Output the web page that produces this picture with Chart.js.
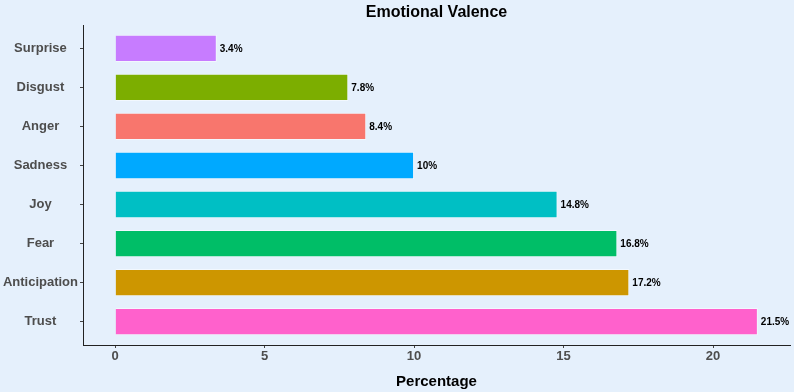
<!DOCTYPE html>
<html>
<head>
<meta charset="utf-8">
<script src="https://cdn.jsdelivr.net/npm/chart.js@4"></script>
<style>
  html, body { margin: 0; padding: 0; background: #E5F0FC; }
  #wrap { width: 794px; height: 392px; }
</style>
</head>
<body>
<div id="wrap"><canvas id="emoChart" width="794" height="392"></canvas></div>
<script>
// Data, top to bottom as shown
const emotions = ['Surprise', 'Disgust', 'Anger', 'Sadness', 'Joy', 'Fear', 'Anticipation', 'Trust'];
const percentages = [3.4, 7.8, 8.4, 10, 14.8, 16.8, 17.2, 21.5];
const valueLabels = ['3.4%', '7.8%', '8.4%', '10%', '14.8%', '16.8%', '17.2%', '21.5%'];
const barColors = ['#C77CFF', '#7CAE00', '#F8766D', '#00A9FF', '#00BFC4', '#00BE67', '#CD9600', '#FF61CC'];
const xTicks = [0, 5, 10, 15, 20];

const FONT = '"Liberation Sans", Arial, sans-serif';

// Draw title, axis title and the value labels
const decorations = {
    id: 'decorations',
    beforeDraw(chart) {
        const ctx = chart.ctx;
        ctx.save();
        ctx.fillStyle = '#E5F0FC';
        ctx.fillRect(0, 0, chart.width, chart.height);
        ctx.restore();
    },
    afterDraw(chart) {
        const ctx = chart.ctx;
        const area = chart.chartArea;
        const mid = (area.left + area.right) / 2;
        ctx.save();
        ctx.fillStyle = '#000';
        ctx.textAlign = 'center';
        ctx.textBaseline = 'alphabetic';
        ctx.font = 'bold 16px ' + FONT;
        ctx.fillText('Emotional Valence', mid, 17);
        ctx.font = 'bold 15px ' + FONT;
        ctx.fillText('Percentage', mid, 386);

        // value labels next to bars
        const meta = chart.getDatasetMeta(0);
        ctx.font = 'bold 10px ' + FONT;
        ctx.textAlign = 'left';
        ctx.textBaseline = 'middle';
        meta.data.forEach((bar, i) => {
            ctx.fillText(valueLabels[i], bar.x + 3, bar.y + 1);
        });
        ctx.restore();
    }
};

const ctx = document.getElementById('emoChart').getContext('2d');
new Chart(ctx, {
    type: 'bar',
    data: {
        datasets: [{
            data: percentages.map((v, i) => ({ x: v, y: i })),
            backgroundColor: barColors,
            borderColor: 'rgba(255,255,255,0.5)',
            borderWidth: 1,
            barPercentage: 0.7,
            categoryPercentage: 1
        }]
    },
    options: {
        indexAxis: 'y',
        responsive: false,
        animation: false,
        layout: { padding: { top: 25, right: 4, left: 0, bottom: 0 } },
        plugins: {
            legend: { display: false },
            tooltip: { enabled: false }
        },
        scales: {
            x: {
                type: 'linear',
                min: -1.075,
                max: 22.575,
                afterBuildTicks: (scale) => { scale.ticks = xTicks.map(v => ({ value: v })); },
                afterFit: (scale) => { scale.height = 47; },
                grid: { drawOnChartArea: false, tickLength: 3, color: '#444' },
                border: { display: true, color: '#222', width: 1 },
                ticks: {
                    color: '#4D4D4D',
                    font: { family: FONT, size: 13, weight: 'bold' },
                    padding: 1,
                    maxRotation: 0
                }
            },
            y: {
                type: 'linear',
                reverse: true,
                offset: false,
                min: -0.6,
                max: 7.6,
                afterBuildTicks: (scale) => { scale.ticks = emotions.map((_, i) => ({ value: i })); },
                afterFit: (scale) => { scale.width = 83; },
                grid: { drawOnChartArea: false, offset: false, tickLength: 3, color: '#444' },
                border: { display: true, color: '#222', width: 1 },
                ticks: {
                    color: '#4D4D4D',
                    font: { family: FONT, size: 13, weight: 'bold' },
                    padding: 2,
                    crossAlign: 'center',
                    callback: (v) => emotions[v]
                }
            }
        }
    },
    plugins: [decorations]
});
</script>
</body>
</html>
